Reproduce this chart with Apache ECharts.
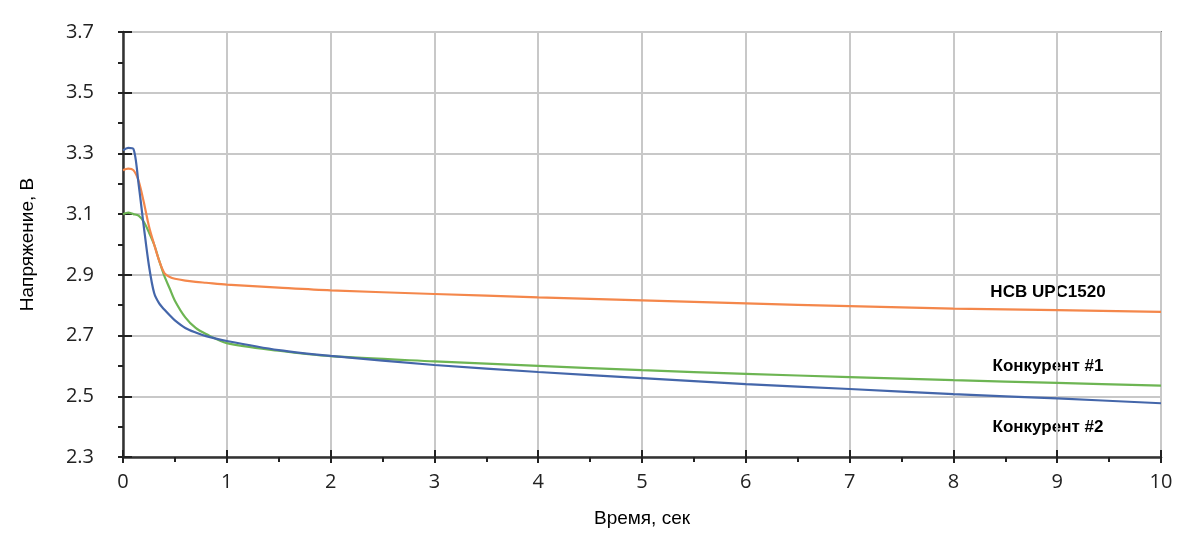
<!DOCTYPE html>
<html><head><meta charset="utf-8">
<script src="https://cdn.jsdelivr.net/npm/echarts@6/dist/echarts.min.js"></script>
<style>html,body{margin:0;padding:0;background:#fff}#c{width:1194px;height:553px}</style>
</head><body><div id="c"></div>
<script>
const time = [0, 0.05, 0.1, 0.15, 0.2, 0.25, 0.3, 0.35, 0.4, 0.45, 0.5, 0.6, 0.7, 0.8, 1, 1.5, 2, 3, 4, 5, 6, 7, 8, 9, 10];
const hcb = [3.245, 3.25, 3.245, 3.21, 3.14, 3.06, 3.0, 2.945, 2.905, 2.893, 2.887, 2.881, 2.877, 2.874, 2.868, 2.858, 2.849, 2.837, 2.826, 2.816, 2.806, 2.797, 2.789, 2.784, 2.778];
const comp1 = [3.1, 3.105, 3.1, 3.095, 3.075, 3.04, 3.0, 2.945, 2.895, 2.855, 2.815, 2.76, 2.725, 2.705, 2.675, 2.65, 2.632, 2.615, 2.6, 2.586, 2.574, 2.563, 2.553, 2.544, 2.535];
const comp2 = [3.31, 3.318, 3.315, 3.2, 3.06, 2.93, 2.84, 2.805, 2.785, 2.767, 2.75, 2.725, 2.71, 2.698, 2.682, 2.652, 2.633, 2.603, 2.58, 2.56, 2.54, 2.524, 2.507, 2.493, 2.477];
const yTickLabels = [2.3, 2.5, 2.7, 2.9, 3.1, 3.3, 3.5, 3.7];
const yMinorTicks = [2.3, 2.4, 2.5, 2.6, 2.7, 2.8, 2.9, 3.0, 3.1, 3.2, 3.3, 3.4, 3.5, 3.6, 3.7];
const seriesNames = ['HCB UPC1520', 'Конкурент #1', 'Конкурент #2'];

const chart = echarts.init(document.getElementById('c'), null, {renderer: 'canvas'});
const pair = arr => time.map((t, i) => [t, arr[i]]);
const yMin = yTickLabels[0], yMax = yTickLabels[yTickLabels.length - 1];
const labelFont = {fontFamily: 'Open Sans', fontSize: 20, color: '#222'};
const tickStyle = {color: '#222', width: 2};

chart.setOption({
  animation: false,
  grid: {left: 123, right: 33, top: 32, bottom: 96, show: true, borderColor: '#222', borderWidth: 1.5, backgroundColor: 'transparent'},
  xAxis: [{
    type: 'value', min: 0, max: 10, interval: 1,
    axisLine: {show: true, onZero: false, lineStyle: {color: '#333', width: 2.5}},
    axisTick: {show: true, length: 6, lineStyle: tickStyle},
    minorTick: {show: true, splitNumber: 2, length: 5, lineStyle: tickStyle},
    axisLabel: Object.assign({margin: 15}, labelFont),
    splitLine: {show: true, lineStyle: {color: '#c8c8c8', width: 2}},
    name: 'Время, сек', nameLocation: 'middle', nameGap: 52,
    nameTextStyle: {fontFamily: 'Liberation Sans', fontSize: 19, color: '#000'}
  }, {
    type: 'value', min: 0, max: 10, interval: 1, position: 'bottom',
    axisLine: {show: false}, axisLabel: {show: false}, splitLine: {show: false},
    axisTick: {show: true, inside: true, length: 7, lineStyle: tickStyle}
  }],
  yAxis: [{
    type: 'value', min: yMin, max: yMax,
    axisLine: {show: true, onZero: false, lineStyle: {color: '#333', width: 2.5}},
    axisTick: {show: true, length: 5, customValues: yMinorTicks, lineStyle: tickStyle},
    axisLabel: Object.assign({margin: 29, customValues: yTickLabels, formatter: v => v.toFixed(1)}, labelFont),
    splitLine: {show: false},
    name: 'Напряжение, В', nameLocation: 'middle', nameGap: 86,
    nameTextStyle: {fontFamily: 'Liberation Sans', fontSize: 19, color: '#000'}
  }, {
    type: 'value', min: 0, max: yMax - yMin, interval: 0.2, position: 'left',
    axisLine: {show: false}, axisLabel: {show: false},
    axisTick: {show: true, inside: true, length: 9, lineStyle: tickStyle},
    splitLine: {show: true, lineStyle: {color: '#c8c8c8', width: 2}}
  }],
  series: [
    {name: seriesNames[0], type: 'line', data: pair(hcb), smooth: 0.3, showSymbol: false, lineStyle: {color: '#f4874b', width: 2.2}, z: 5},
    {name: seriesNames[1], type: 'line', data: pair(comp1), smooth: 0.3, showSymbol: false, lineStyle: {color: '#6db553', width: 2.2}, z: 4},
    {name: seriesNames[2], type: 'line', data: pair(comp2), smooth: 0.3, showSymbol: false, lineStyle: {color: '#4466aa', width: 2.2}, z: 6}
  ],
  graphic: [
    {type: 'text', x: 1048, y: 292, style: {text: seriesNames[0], font: 'bold 17px "Liberation Sans"', fill: '#000', textAlign: 'center', textVerticalAlign: 'middle'}},
    {type: 'text', x: 1048, y: 366, style: {text: seriesNames[1], font: 'bold 17px "Liberation Sans"', fill: '#000', textAlign: 'center', textVerticalAlign: 'middle'}},
    {type: 'text', x: 1048, y: 427, style: {text: seriesNames[2], font: 'bold 17px "Liberation Sans"', fill: '#000', textAlign: 'center', textVerticalAlign: 'middle'}}
  ]
});
</script></body></html>
